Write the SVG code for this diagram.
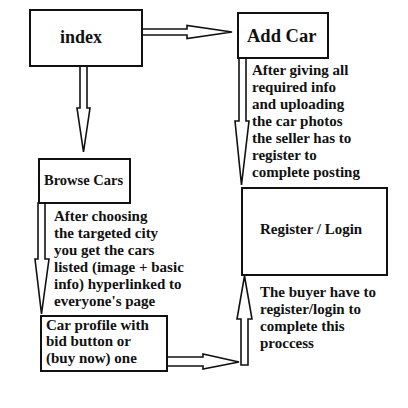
<svg xmlns="http://www.w3.org/2000/svg" width="408" height="408" viewBox="0 0 408 408">
<style>
.box{fill:#fff;stroke:#111;stroke-width:2}
.arr{fill:#fff;stroke:#111;stroke-width:1.6;stroke-linejoin:miter}
.t{font-family:"Liberation Serif","Times New Roman",serif;font-weight:bold;fill:#111}
.s15{font-size:15px}
</style>
<rect width="408" height="408" fill="#fff"/>
<g id="connectors">
<polygon class="arr" points="142,29 187,29 187,25.5 232,32 187,38.5 187,35 142,35"/>
<polygon class="arr" points="80,66 80,108 77,108 83.5,152 90,108 87,108 87,66"/>
<polygon class="arr" points="239,58 239,121 235,121 241.5,185 249,121 246,121 246,58"/>
<polygon class="arr" points="38,203 38,259 35,259 41.5,314 49,259 45,259 45,203"/>
<polygon class="arr" points="167,357 203,357 203,354 239,362 203,369 203,366 167,366"/>
<polygon class="arr" points="241,365 241,319 237,319 244.5,276 252,319 248,319 248,365"/>
</g>
<g id="index">
<rect class="box" x="30" y="10" width="112" height="56"/>
<text class="t" x="60" y="43" font-size="18">index</text>
</g>
<g id="add-car">
<rect class="box" x="238" y="13" width="90" height="45"/>
<text class="t" x="247" y="42" font-size="18.5">Add Car</text>
<text class="t s15" x="252" y="75">After giving all</text>
<text class="t s15" x="252" y="92">required info</text>
<text class="t s15" x="252" y="109">and uploading</text>
<text class="t s15" x="252" y="126">the car photos</text>
<text class="t s15" x="252" y="143">the seller has to</text>
<text class="t s15" x="252" y="160">register to</text>
<text class="t s15" x="252" y="177">complete posting</text>
</g>
<g id="browse-cars">
<rect class="box" x="39" y="159" width="91" height="44"/>
<text class="t" x="44" y="185" font-size="14.5">Browse Cars</text>
<text class="t s15" x="54" y="221">After choosing</text>
<text class="t s15" x="54" y="238">the targeted city</text>
<text class="t s15" x="54" y="255">you get the cars</text>
<text class="t s15" x="54" y="272">listed (image + basic</text>
<text class="t s15" x="54" y="289">info) hyperlinked to</text>
<text class="t s15" x="54" y="306">everyone's page</text>
</g>
<g id="register-login">
<rect class="box" x="242" y="188" width="145" height="87"/>
<text class="t s15" x="260" y="234">Register / Login</text>
<text class="t s15" x="260" y="297">The buyer have to</text>
<text class="t s15" x="260" y="314">register/login to</text>
<text class="t s15" x="260" y="331">complete this</text>
<text class="t s15" x="260" y="348">proccess</text>
</g>
<g id="car-profile">
<rect class="box" x="41" y="316" width="126" height="55"/>
<text class="t s15" x="46" y="330">Car profile with</text>
<text class="t s15" x="46" y="346">bid button or</text>
<text class="t s15" x="46" y="363">(buy now) one</text>
</g>
</svg>
